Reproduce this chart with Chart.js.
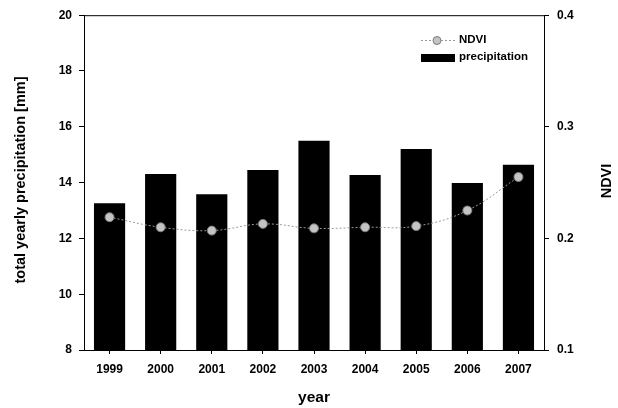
<!DOCTYPE html>
<html>
<head>
<meta charset="utf-8">
<script src="https://cdn.jsdelivr.net/npm/chart.js@4/dist/chart.umd.min.js"></script>
<style>
  html, body { margin: 0; padding: 0; background: #fff; }
  #wrap { width: 618px; height: 408px; }
</style>
</head>
<body>
<div id="wrap"><canvas id="c" width="618" height="408"></canvas></div>
<script>
// Yearly precipitation (left axis) and mean NDVI (right axis)
const years = ['1999', '2000', '2001', '2002', '2003', '2004', '2005', '2006', '2007'];
const precipitation = [13.26, 14.31, 13.58, 14.45, 15.50, 14.27, 15.20, 13.99, 14.64];
const ndvi = [0.219, 0.210, 0.207, 0.213, 0.209, 0.210, 0.211, 0.225, 0.255];

const precipTicks = [8, 10, 12, 14, 16, 18, 20];
const ndviTicks = [0.1, 0.2, 0.3, 0.4];

const FONT = '"Liberation Sans", Arial, Helvetica, sans-serif';

// Frame, axis titles and legend
const decorations = {
  id: 'decorations',
  afterDraw(chart) {
    const { ctx, chartArea: a } = chart;
    ctx.save();
    ctx.strokeStyle = '#000';
    ctx.lineWidth = 1;
    ctx.beginPath();
    ctx.moveTo(a.left, a.top + 0.5);
    ctx.lineTo(a.right, a.top + 0.5);
    ctx.stroke();

    ctx.fillStyle = '#000';
    ctx.textAlign = 'center';
    ctx.textBaseline = 'middle';

    ctx.font = 'bold 15.5px ' + FONT;
    ctx.fillText('year', 314, 398);

    ctx.font = 'bold 14.5px ' + FONT;
    ctx.save();
    ctx.translate(21, 180);
    ctx.rotate(-Math.PI / 2);
    ctx.fillText('total yearly precipitation [mm]', 0, 0);
    ctx.restore();

    ctx.save();
    ctx.translate(607, 181);
    ctx.rotate(-Math.PI / 2);
    ctx.fillText('NDVI', 0, 0);
    ctx.restore();

    // legend
    const lineDs = chart.data.datasets[1];
    const barDs = chart.data.datasets[0];
    ctx.strokeStyle = lineDs.borderColor;
    ctx.setLineDash([2, 2]);
    ctx.beginPath();
    ctx.moveTo(421, 40.5);
    ctx.lineTo(455, 40.5);
    ctx.stroke();
    ctx.setLineDash([]);
    ctx.beginPath();
    ctx.arc(437, 40.5, 4, 0, Math.PI * 2);
    ctx.fillStyle = lineDs.pointBackgroundColor;
    ctx.fill();
    ctx.strokeStyle = lineDs.pointBorderColor;
    ctx.stroke();

    ctx.fillStyle = barDs.backgroundColor;
    ctx.fillRect(421, 54, 34, 8);

    ctx.fillStyle = '#000';
    ctx.textAlign = 'left';
    ctx.font = 'bold 11.5px ' + FONT;
    ctx.fillText('NDVI', 459, 40);
    ctx.fillText('precipitation', 459, 57);
    ctx.restore();
  }
};

const tickFont = { family: FONT, size: 12, weight: 'bold' };

new Chart(document.getElementById('c'), {
  type: 'bar',
  data: {
    labels: years,
    datasets: [
      {
        type: 'bar',
        label: 'precipitation',
        data: precipitation,
        yAxisID: 'y',
        backgroundColor: '#000',
        borderWidth: 0,
        categoryPercentage: 1,
        barPercentage: 0.61,
        order: 2
      },
      {
        type: 'line',
        label: 'NDVI',
        data: ndvi,
        yAxisID: 'y1',
        borderColor: '#9a9a9a',
        borderWidth: 1,
        borderDash: [2, 2],
        tension: 0.4,
        pointRadius: 4.5,
        pointBackgroundColor: '#c4c4c4',
        pointBorderColor: '#7a7a7a',
        pointBorderWidth: 1,
        order: 1
      }
    ]
  },
  options: {
    responsive: false,
    animation: false,
    layout: { padding: { top: 14, left: 0, right: 0, bottom: 0 } },
    plugins: { legend: { display: false }, tooltip: { enabled: false } },
    scales: {
      x: {
        offset: true,
        grid: { display: true, drawOnChartArea: false, offset: false, tickLength: 4, color: '#000' },
        border: { display: true, color: '#000', width: 1 },
        ticks: { color: '#000', font: tickFont, padding: 8 },
        afterFit(s) { s.height = 58; }
      },
      y: {
        position: 'left',
        min: 8, max: 20,
        afterBuildTicks(s) { s.ticks = precipTicks.map(v => ({ value: v })); },
        grid: { display: true, drawOnChartArea: false, tickLength: 5, color: '#000' },
        border: { display: true, color: '#000', width: 1 },
        ticks: { color: '#000', font: tickFont, padding: 7 },
        afterFit(s) { s.width = 84; }
      },
      y1: {
        position: 'right',
        min: 0.1, max: 0.4,
        afterBuildTicks(s) { s.ticks = ndviTicks.map(v => ({ value: v })); },
        grid: { display: true, drawOnChartArea: false, tickLength: 5, color: '#000' },
        border: { display: true, color: '#000', width: 1 },
        ticks: { color: '#000', font: tickFont, padding: 8,
                 callback: v => v.toFixed(1) },
        afterFit(s) { s.width = 74; }
      }
    }
  },
  plugins: [decorations]
});
</script>
</body>
</html>
